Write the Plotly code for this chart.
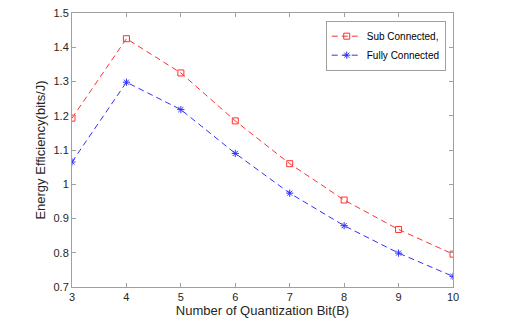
import plotly.graph_objects as go

bits = [3, 4, 5, 6, 7, 8, 9, 10]
sub_connected = [1.193, 1.425, 1.325, 1.185, 1.06, 0.954, 0.868, 0.796]
fully_connected = [1.065, 1.298, 1.218, 1.09, 0.974, 0.879, 0.799, 0.731]

axis_color = '#a0a0a0'
text_color = '#262626'

fig = go.Figure()
fig.add_trace(go.Scatter(x=bits, y=sub_connected, name='Sub Connected,', mode='lines+markers',
                         line=dict(color='#ff3030', width=1, dash='6px,4px'),
                         marker=dict(symbol='square-open', size=6, color='#ff3030', line=dict(width=1))))
fig.add_trace(go.Scatter(x=bits, y=fully_connected, name='Fully Connected', mode='lines+markers',
                         line=dict(color='#3030ff', width=1, dash='6px,4px'),
                         marker=dict(symbol='asterisk-open', size=6, color='#3030ff', line=dict(width=1, color='#3030ff'))))

# page body has an 8px margin, so the figure is a bit smaller than the window
fig.update_layout(
    width=503, height=322,
    margin=dict(l=64, r=58, t=5, b=43),
    paper_bgcolor='white', plot_bgcolor='white',
    font=dict(family='Liberation Sans, Arial, sans-serif', size=11, color=text_color),
    xaxis=dict(range=[3, 10], tickvals=bits, ticks='inside', ticklen=4, tickcolor=axis_color,
               showline=True, linecolor=axis_color, linewidth=1, mirror='allticks', showgrid=False,
               zeroline=False, automargin=False, ticklabeloverflow='allow',
               title=dict(text='Number of Quantization Bit(B)', standoff=2)),
    yaxis=dict(range=[0.7, 1.5], tickvals=[0.7, 0.8, 0.9, 1, 1.1, 1.2, 1.3, 1.4, 1.5],
               ticktext=['0.7', '0.8', '0.9', '1', '1.1', '1.2', '1.3', '1.4', '1.5'],
               ticks='inside', ticklen=4, tickcolor=axis_color,
               showline=True, linecolor=axis_color, linewidth=1, mirror='allticks', showgrid=False,
               zeroline=False, automargin=False, ticklabeloverflow='allow',
               title=dict(text='Energy Efficiency(bits/J)', standoff=4)),
    legend=dict(x=0.666, y=0.972, xanchor='left', yanchor='top', bgcolor='white',
                bordercolor=axis_color, borderwidth=1, font=dict(size=10, color='black'),
                tracegroupgap=0, itemwidth=30),
    showlegend=True,
)

fig.write_html("out.html")
